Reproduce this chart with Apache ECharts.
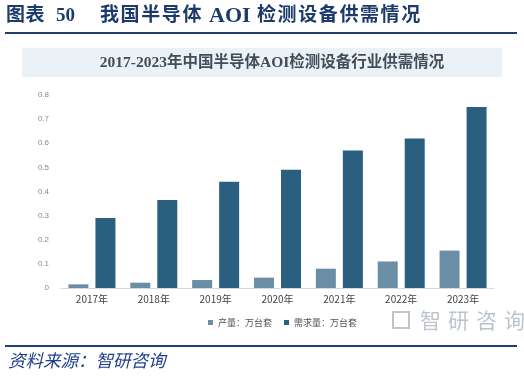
<!DOCTYPE html>
<html><head><meta charset="utf-8">
<script src="https://cdn.jsdelivr.net/npm/echarts@6/dist/echarts.min.js"></script>
<style>html,body{margin:0;padding:0;background:#fff}#c{width:524px;height:381px}</style>
</head><body><div id="c"></div>
<script>
const categories = ['2017年','2018年','2019年','2020年','2021年','2022年','2023年'];
const production = [0.015, 0.022, 0.033, 0.043, 0.08, 0.11, 0.155];
const demand = [0.29, 0.365, 0.44, 0.49, 0.57, 0.62, 0.75];
const seriesNames = ['产量：万台套', '需求量：万台套'];
const yTicks = [0, 0.1, 0.2, 0.3, 0.4, 0.5, 0.6, 0.7, 0.8];

const chart = echarts.init(document.getElementById('c'), null, {renderer:'canvas'});
const serifFont = "'Liberation Serif','Noto Sans CJK SC',serif";
const hdrFont = "bold 19px "+serifFont;
const hdr = (txt, x0, step) => txt.split('').map((ch,i)=>({type:'text', x:x0+i*step, y:16, style:{text:ch, font:hdrFont, fill:'#1c3a6c', verticalAlign:'middle'}}));
const wm = ['智','研','咨','询'].map((ch,i)=>({type:'text', x:420+i*28, y:320, style:{text:ch, font:"21px 'Noto Sans CJK SC'", fill:'#bcc5ce', verticalAlign:'middle'}}));
chart.setOption({
  animation:false,
  backgroundColor:'#fff',
  graphic:[
    ...hdr('图表', 6, 19.5),
    {type:'text', x:56, y:16, style:{text:'50', font:hdrFont, fill:'#1c3a6c', verticalAlign:'middle'}},
    ...hdr('我国半导体', 100, 20.6),
    {type:'text', x:209, y:16, style:{text:'AOI', font:"bold 22px "+serifFont, fill:'#1c3a6c', verticalAlign:'middle'}},
    ...hdr('检测设备供需情况', 257, 20.6),
    {type:'rect', shape:{x:5, y:32, width:512, height:2}, style:{fill:'#1f3f73'}},
    {type:'rect', shape:{x:22, y:48, width:480, height:29}, style:{fill:'#eaf2f8'}},
    {type:'text', x:272, y:63, style:{text:'2017-2023年中国半导体AOI检测设备行业供需情况', font:"bold 15.5px "+serifFont, fill:'#434c58', align:'center', verticalAlign:'middle'}},
    ...wm,
    {type:'rect', shape:{x:393, y:312, width:16, height:16}, style:{fill:'none', stroke:'#bcc5ce', lineWidth:2}},
    {type:'rect', shape:{x:5, y:345, width:512, height:2}, style:{fill:'#1f3f73'}},
    {type:'text', left:8, top:352, style:{text:'资料来源：智研咨询', font:"italic 17.5px 'Noto Sans CJK SC'", fill:'#1f3f8a'}}
  ],
  legend:{
    data:seriesNames, left:203, top:313, itemWidth:5, itemHeight:5, itemGap:12,
    icon:'rect', textStyle:{fontSize:9, color:'#555', fontFamily:'Noto Sans CJK SC'}
  },
  grid:{left:61, right:30, top:95, bottom:93},
  xAxis:{
    type:'category', data:categories,
    axisLine:{lineStyle:{color:'#d9d9d9'}}, axisTick:{show:false},
    axisLabel:{fontSize:10, color:'#444', margin:6, fontFamily:'Noto Sans CJK SC'}
  },
  yAxis:{
    type:'value', min:0, max:0.8, interval:0.1,
    axisLine:{show:false}, axisTick:{show:false}, splitLine:{show:false},
    axisLabel:{fontSize:8, color:'#888', margin:12, formatter:v=>{const t=yTicks.find(x=>Math.abs(x-v)<1e-9);return t===undefined?'':String(t);}}
  },
  series:[
    {name:seriesNames[0], type:'bar', data:production, barWidth:20, barGap:'35%', itemStyle:{color:'#6a8ea6'}},
    {name:seriesNames[1], type:'bar', data:demand, barWidth:20, itemStyle:{color:'#2a5f80'}}
  ]
});
</script></body></html>
